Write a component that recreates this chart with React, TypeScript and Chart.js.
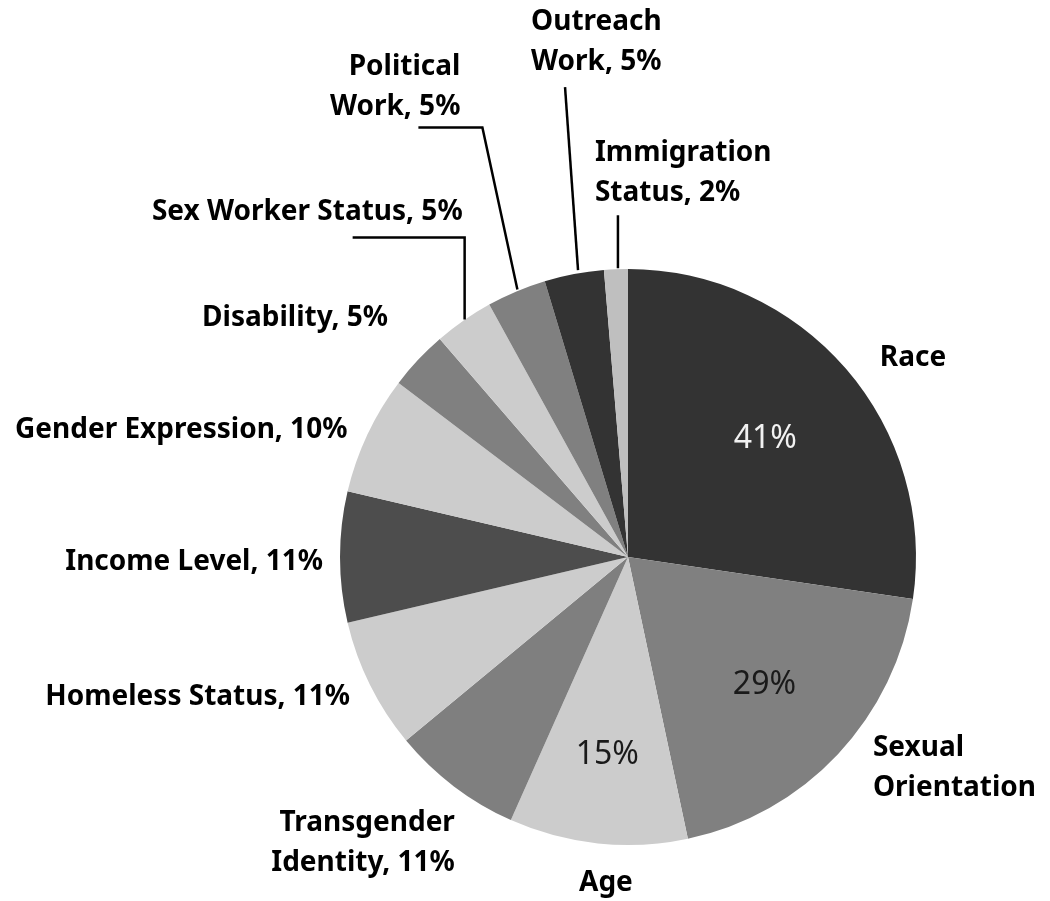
import React, { useEffect, useRef } from "react";
import { Chart, registerables } from "chart.js";

Chart.register(...registerables);

const categories = [
  "Race",
  "Sexual\nOrientation",
  "Age",
  "Transgender\nIdentity",
  "Homeless Status",
  "Income Level",
  "Gender Expression",
  "Disability",
  "Sex Worker Status",
  "Political\nWork",
  "Outreach\nWork",
  "Immigration\nStatus",
];
const values = [41, 29, 15, 11, 11, 11, 10, 5, 5, 5, 5, 2];
const sliceColors = [
  "#333333", "#808080", "#cccccc", "#7f7f7f", "#cccccc", "#4d4d4d",
  "#cccccc", "#808080", "#cccccc", "#808080", "#333333", "#bfbfbf",
];
// slices whose percentage sits inside the pie
const insideValue = [true, true, true, false, false, false, false, false, false, false, false, false];
const insideColors = ["#f2f2f2", "#1a1a1a", "#1a1a1a"];
const insideRadius = [0.63, 0.65, 0.69];

// label layout relative to the outer midpoint of each slice
type Lay = { dx: number; dy: number; align: CanvasTextAlign; leader?: number[][] };
const layout: Lay[] = [
  { dx: 67, dy: -11, align: "center" },
  { dx: 35, dy: -6, align: "left" },
  { dx: 8, dy: 40, align: "center" },
  { dx: 1, dy: 37, align: "right" },
  { dx: -20, dy: 12, align: "right" },
  { dx: -17, dy: 5, align: "right" },
  { dx: -20, dy: -4, align: "right" },
  { dx: -30, dy: -42, align: "right" },
  { dx: -1, dy: -108, align: "right", leader: [[1, -1], [1, -83], [-111, -83]] },
  { dx: -56, dy: -224, align: "right", leader: [[1, -2], [-34, -164], [-98, -164]] },
  { dx: -43, dy: -252, align: "left", leader: [[4, -4], [-9, -187]] },
  { dx: -21, dy: -116, align: "left", leader: [[2, -1], [2, -54]] },
];

const FONT = '"Noto Sans", sans-serif';

const labelPlugin = {
  id: "pieLabels",
  afterDatasetsDraw(chart: any) {
    const ctx: CanvasRenderingContext2D = chart.ctx;
    const meta = chart.getDatasetMeta(0);
    ctx.save();
    meta.data.forEach((arc: any, i: number) => {
      const { x, y, startAngle, endAngle, outerRadius } = arc.getProps(
        ["x", "y", "startAngle", "endAngle", "outerRadius"], true);
      const mid = (startAngle + endAngle) / 2;
      const ax = x + Math.cos(mid) * outerRadius;
      const ay = y + Math.sin(mid) * outerRadius;
      const lay = layout[i];
      // leader line
      if (lay.leader) {
        ctx.beginPath();
        ctx.strokeStyle = "#000";
        ctx.lineWidth = 2.5;
        ctx.lineJoin = "miter";
        lay.leader.forEach((p, k) => {
          if (k === 0) ctx.moveTo(ax + p[0], ay + p[1]);
          else ctx.lineTo(ax + p[0], ay + p[1]);
        });
        ctx.stroke();
      }
      // outside label
      const name = categories[i];
      const text = insideValue[i] ? name : `${name}, ${values[i]}%`;
      const lines = text.split("\n");
      ctx.font = `bold 28px ${FONT}`;
      ctx.fillStyle = "#000";
      ctx.textAlign = lay.align;
      ctx.textBaseline = "middle";
      lines.forEach((ln, k) => {
        ctx.fillText(ln, ax + lay.dx, ay + lay.dy + k * 40);
      });
      // inside percentage
      if (insideValue[i]) {
        const r = outerRadius * insideRadius[i];
        ctx.font = `32px ${FONT}`;
        ctx.fillStyle = insideColors[i];
        ctx.textAlign = "center";
        ctx.fillText(`${values[i]}%`, x + Math.cos(mid) * r, y + Math.sin(mid) * r);
      }
    });
    ctx.restore();
  },
};

export default function App() {
  const ref = useRef<HTMLCanvasElement | null>(null);
  useEffect(() => {
    if (!ref.current) return;
    const chart = new Chart(ref.current, {
      type: "pie",
      data: {
        labels: categories,
        datasets: [
          {
            data: values,
            backgroundColor: sliceColors,
            borderWidth: 0,
            hoverOffset: 0,
          },
        ],
      },
      options: {
        responsive: false,
        animation: false,
        devicePixelRatio: 1,
        events: [],
        layout: { padding: { left: 340, right: 134, top: 269, bottom: 56 } },
        plugins: {
          legend: { display: false },
          tooltip: { enabled: false },
        },
      },
      plugins: [labelPlugin],
    });
    return () => chart.destroy();
  }, []);
  return (
    <div style={{ position: "absolute", left: 0, top: 0, width: 1050, height: 901, background: "#fff" }}>
      <canvas ref={ref} width={1050} height={901} />
    </div>
  );
}
